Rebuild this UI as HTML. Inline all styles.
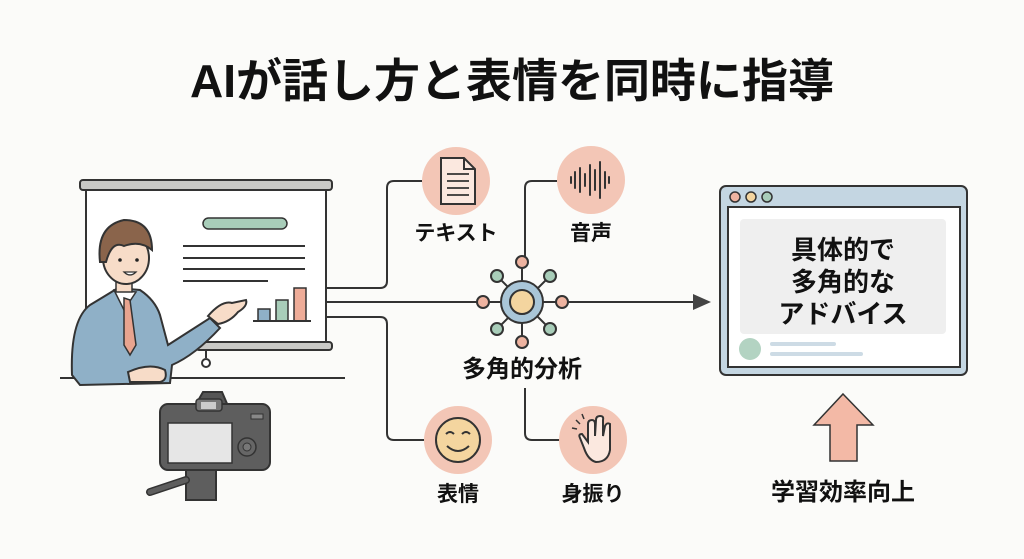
<!DOCTYPE html>
<html><head><meta charset="utf-8"><style>
body{margin:0;background:#fbfbf9;}
svg{display:block;font-family:"Liberation Sans","Noto Sans CJK JP",sans-serif;}
</style></head><body>
<svg width="1024" height="559" viewBox="0 0 1024 559" xmlns="http://www.w3.org/2000/svg">
<rect width="1024" height="559" fill="#fbfbf9"/>
<text x="512" y="97" text-anchor="middle" font-size="46" font-weight="bold" fill="#111">AIが話し方と表情を同時に指導</text>

<!-- projector screen -->
<rect x="86" y="188" width="240" height="158" fill="#fff" stroke="#333" stroke-width="2"/>
<rect x="80" y="180" width="252" height="10" rx="3" fill="#c9c9c6" stroke="#333" stroke-width="2"/>
<rect x="196" y="342" width="136" height="8" rx="3" fill="#c9c9c6" stroke="#333" stroke-width="2"/>
<line x1="206" y1="350" x2="206" y2="358" stroke="#333" stroke-width="2"/>
<circle cx="206" cy="363" r="4" fill="#fff" stroke="#333" stroke-width="2"/>
<rect x="203" y="218" width="84" height="11" rx="5.5" fill="#a8cdb9" stroke="#333" stroke-width="1.5"/>
<g stroke="#333" stroke-width="2"><line x1="183" y1="246" x2="305" y2="246"/><line x1="183" y1="258" x2="305" y2="258"/><line x1="183" y1="269" x2="305" y2="269"/><line x1="183" y1="281" x2="268" y2="281"/></g>
<rect x="258" y="309" width="12" height="12" fill="#8fb0c7" stroke="#333" stroke-width="1.5"/>
<rect x="276" y="300" width="12" height="21" fill="#a8cdb9" stroke="#333" stroke-width="1.5"/>
<rect x="294" y="288" width="12" height="33" fill="#eeac98" stroke="#333" stroke-width="1.5"/>
<line x1="253" y1="321" x2="311" y2="321" stroke="#333" stroke-width="2"/>
<line x1="60" y1="378" x2="345" y2="378" stroke="#333" stroke-width="2"/>

<!-- person -->
<path d="M72 375 Q70 320 90 305 Q105 296 118 288 L140 290 Q155 300 160 315 L168 345 L210 318 L220 328 Q195 355 172 365 L170 383 L80 385 Z" fill="#8fb0c7" stroke="#333" stroke-width="2"/>
<path d="M114 290 L124 310 L136 292 Z" fill="#fff" stroke="#333" stroke-width="1.5"/>
<path d="M124 298 L130 300 L136 345 L130 355 L124 345 Z" fill="#e8a48f" stroke="#333" stroke-width="1.5"/>
<rect x="116" y="276" width="16" height="16" fill="#f7dcc8" stroke="#333" stroke-width="1.5"/>
<ellipse cx="126" cy="258" rx="23" ry="26" fill="#f7dcc8" stroke="#333" stroke-width="2"/>
<path d="M100 262 Q96 226 124 220 Q152 220 152 250 Q140 240 124 246 Q112 240 106 262 Z" fill="#8a644b" stroke="#333" stroke-width="2"/>
<circle cx="120" cy="260" r="1.8" fill="#222"/><circle cx="137" cy="260" r="1.8" fill="#222"/>
<path d="M124 272 Q130 278 136 272 Z" fill="#fff" stroke="#333" stroke-width="1.3"/>
<path d="M208 316 Q222 300 232 303 L246 300 Q248 306 238 312 Q230 322 218 324 Z" fill="#f7dcc8" stroke="#333" stroke-width="2"/>
<path d="M128 372 Q150 362 165 370 Q168 380 160 382 L130 382 Z" fill="#f7dcc8" stroke="#333" stroke-width="2"/>

<!-- camera -->
<path d="M195 406 L203 392 L222 392 L228 406 Z" fill="#555" stroke="#333" stroke-width="2"/>
<rect x="160" y="404" width="110" height="66" rx="8" fill="#5e5e5e" stroke="#333" stroke-width="2"/>
<rect x="196" y="399" width="26" height="12" rx="3" fill="#777" stroke="#333" stroke-width="1.5"/>
<rect x="201" y="402" width="15" height="7" fill="#ccc"/>
<rect x="168" y="423" width="64" height="40" fill="#e6e6e6" stroke="#333" stroke-width="1.5"/>
<circle cx="247" cy="447" r="9" fill="#666" stroke="#333" stroke-width="1.5"/>
<circle cx="247" cy="447" r="4" fill="#777" stroke="#333" stroke-width="1"/>
<rect x="251" y="414" width="12" height="5" fill="#888" stroke="#333" stroke-width="1"/>
<rect x="186" y="470" width="30" height="30" fill="#5e5e5e" stroke="#333" stroke-width="2"/>
<path d="M186 480 L150 492" stroke="#333" stroke-width="8" stroke-linecap="round"/>
<path d="M186 480 L150 492" stroke="#5e5e5e" stroke-width="5" stroke-linecap="round"/>

<!-- connectors -->
<g fill="none" stroke="#333" stroke-width="2">
<path d="M327 288 L380 288 Q387 288 387 281 L387 188 Q387 181 394 181 L422 181"/>
<path d="M327 317 L380 317 Q387 317 387 324 L387 433 Q387 440 394 440 L424 440"/>
<line x1="327" y1="302" x2="694" y2="302"/>
<path d="M525 258 L525 188 Q525 181 532 181 L557 181"/>
<path d="M525 388 L525 433 Q525 440 532 440 L560 440"/>
</g>
<path d="M693 294 L711 302 L693 310 Z" fill="#444"/>

<!-- hub -->
<g stroke="#333" stroke-width="2">
<line x1="522" y1="262" x2="522" y2="342"/><line x1="483" y1="302" x2="562" y2="302"/>
<line x1="497" y1="276" x2="550" y2="329"/><line x1="550" y1="276" x2="497" y2="329"/>
<circle cx="522" cy="302" r="21" fill="#a9c6d8"/>
<circle cx="522" cy="302" r="12" fill="#f4d59f"/>
<circle cx="522" cy="262" r="6" fill="#eeb3a0"/><circle cx="522" cy="342" r="6" fill="#eeb3a0"/>
<circle cx="483" cy="302" r="6" fill="#eeb3a0"/><circle cx="562" cy="302" r="6" fill="#eeb3a0"/>
<circle cx="497" cy="276" r="6" fill="#a8cdb9"/><circle cx="550" cy="276" r="6" fill="#a8cdb9"/>
<circle cx="497" cy="329" r="6" fill="#a8cdb9"/><circle cx="550" cy="329" r="6" fill="#a8cdb9"/>
</g>
<text x="522" y="377" text-anchor="middle" font-size="24" font-weight="bold" fill="#111">多角的分析</text>

<!-- icon circles -->
<circle cx="456" cy="181" r="34" fill="#f3c6b6"/>
<circle cx="591" cy="180" r="34" fill="#f3c6b6"/>
<circle cx="458" cy="440" r="34" fill="#f3c6b6"/>
<circle cx="593" cy="440" r="34" fill="#f3c6b6"/>
<path d="M441 158 L464 158 L475 169 L475 204 L441 204 Z" fill="#fbe8df" stroke="#333" stroke-width="2"/>
<path d="M464 158 L464 169 L475 169" fill="none" stroke="#333" stroke-width="2"/>
<g stroke="#333" stroke-width="1.8"><line x1="447" y1="174" x2="469" y2="174"/><line x1="447" y1="181" x2="469" y2="181"/><line x1="447" y1="188" x2="469" y2="188"/><line x1="447" y1="195" x2="469" y2="195"/></g>
<g stroke="#333" stroke-width="2" stroke-linecap="round">
<line x1="571" y1="177" x2="571" y2="183"/><line x1="575" y1="172" x2="575" y2="188"/><line x1="580" y1="168" x2="580" y2="192"/><line x1="585" y1="174" x2="585" y2="186"/><line x1="590" y1="165" x2="590" y2="195"/><line x1="595" y1="170" x2="595" y2="190"/><line x1="600" y1="162" x2="600" y2="198"/><line x1="605" y1="172" x2="605" y2="188"/><line x1="609" y1="177" x2="609" y2="183"/>
</g>
<circle cx="458" cy="440" r="22" fill="#f4d59f" stroke="#333" stroke-width="2"/>
<path d="M446 434 Q450 430 454 434 M462 434 Q466 430 470 434 M447 446 Q458 456 469 446" fill="none" stroke="#333" stroke-width="2"/>
<path d="M584 448 L580 438 Q578 434 582 434 L588 442 L588 424 Q588 420 592 420 Q595 420 595 424 L595 436 L596 420 Q596 416 600 416 Q604 416 603 420 L603 436 L605 426 Q607 422 610 424 L610 450 Q608 462 596 462 Q588 460 584 448 Z" fill="#fbe8df" stroke="#333" stroke-width="2"/>
<g stroke="#333" stroke-width="1.5"><line x1="576" y1="420" x2="580" y2="424"/><line x1="572" y1="428" x2="577" y2="429"/><line x1="582" y1="414" x2="584" y2="419"/></g>

<g font-size="21" font-weight="bold" fill="#111" text-anchor="middle">
<text x="456" y="240">テキスト</text>
<text x="591" y="240">音声</text>
<text x="458" y="501">表情</text>
<text x="593" y="501">身振り</text>
</g>

<!-- browser -->
<rect x="720" y="186" width="247" height="189" rx="6" fill="#c4d6e2" stroke="#333" stroke-width="2"/>
<rect x="728" y="207" width="232" height="160" fill="#fff" stroke="#333" stroke-width="2"/>
<circle cx="735" cy="197" r="5" fill="#eeb3a0" stroke="#333" stroke-width="1.5"/>
<circle cx="751" cy="197" r="5" fill="#f4d59f" stroke="#333" stroke-width="1.5"/>
<circle cx="767" cy="197" r="5" fill="#a8cdb9" stroke="#333" stroke-width="1.5"/>
<rect x="740" y="219" width="206" height="115" rx="4" fill="#efefef"/>
<g font-size="26" font-weight="bold" fill="#111" text-anchor="middle">
<text x="843" y="259">具体的で</text>
<text x="843" y="291">多角的な</text>
<text x="843" y="323">アドバイス</text>
</g>
<circle cx="750" cy="349" r="11" fill="#b3d3c2"/>
<rect x="770" y="342" width="66" height="4" rx="2" fill="#cddbe5"/>
<rect x="770" y="352" width="93" height="4" rx="2" fill="#cddbe5"/>

<path d="M843 394 L873 425 L857 425 L857 461 L830 461 L830 425 L814 425 Z" fill="#f3b9a6" stroke="#333" stroke-width="1.5"/>
<text x="843" y="500" text-anchor="middle" font-size="24" font-weight="bold" fill="#111">学習効率向上</text>
</svg>
</body></html>
